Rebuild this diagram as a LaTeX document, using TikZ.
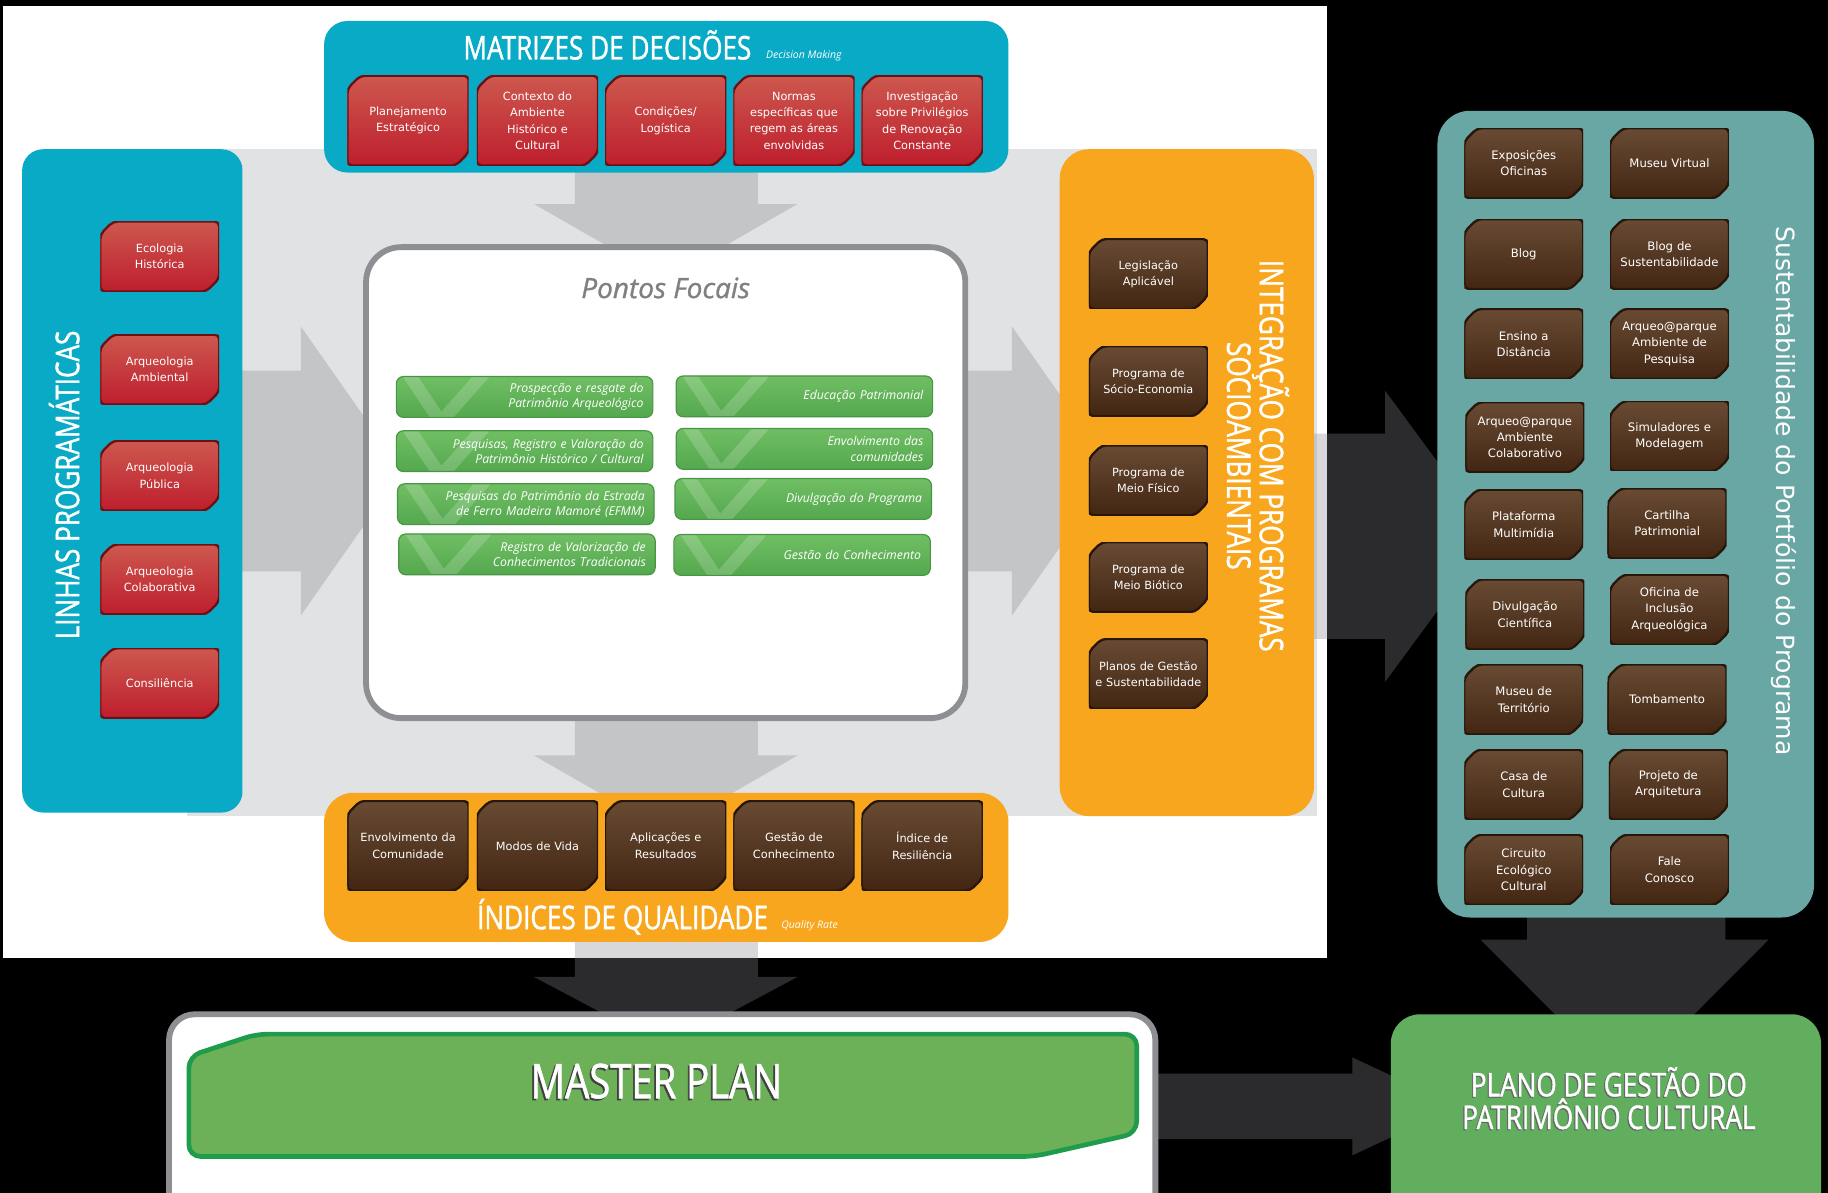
\documentclass[tikz,border=0pt]{standalone}
\usepackage{fontspec}
\setmainfont{DejaVu Sans}
\newfontfamily\condfont[FakeStretch=0.8,FakeBold=1.2]{Open Sans}
\newfontfamily\itfont{Open Sans}
\newfontfamily\focalfont[FakeBold=1]{Open Sans}

\definecolor{teal}{RGB}{9,170,198}
\definecolor{tealR}{RGB}{104,167,163}
\definecolor{orange}{RGB}{247,166,29}
\definecolor{bggray}{RGB}{225,226,228}
\definecolor{arrowgray}{RGB}{135,136,140}
\definecolor{frame}{RGB}{142,143,147}
\definecolor{redtop}{RGB}{205,88,78}
\definecolor{redbot}{RGB}{190,30,45}
\definecolor{redline}{RGB}{110,15,20}
\definecolor{browntop}{RGB}{105,75,52}
\definecolor{brownbot}{RGB}{66,38,18}
\definecolor{brownline}{RGB}{40,22,10}
\definecolor{bartop}{RGB}{112,190,100}
\definecolor{barbot}{RGB}{84,168,78}
\definecolor{barline}{RGB}{72,150,68}
\definecolor{mpgreen}{RGB}{108,176,88}
\definecolor{mpline}{RGB}{30,155,75}
\definecolor{pgreen}{RGB}{96,174,94}
\definecolor{focal}{RGB}{128,128,131}

\tikzset{
  chambox/.style={minimum width=104pt, minimum height=77pt, text width=98pt, inner sep=0pt,
    align=center, text=white, font=\fontsize{9.7}{14}\selectfont,
    path picture={
      \shade[top color=#1top, bottom color=#1bot, draw=#1line, line width=2pt, rounded corners=4pt]
        ([yshift=-11pt]path picture bounding box.north west) --
        ([xshift=11pt]path picture bounding box.north west) --
        (path picture bounding box.north east) --
        ([yshift=11pt]path picture bounding box.south east) --
        ([xshift=-11pt]path picture bounding box.south east) --
        (path picture bounding box.south west) -- cycle;}},
  sidebox/.style={chambox=#1, minimum width=102pt, minimum height=60pt},
  portbox/.style={sidebox=brown, font=\fontsize{10}{14}\selectfont},
  focalbar/.style={rectangle, rounded corners=6pt, draw=barline, line width=1pt,
    top color=bartop, bottom color=barbot, minimum width=220pt, minimum height=35pt,
    text width=204pt, inner sep=0pt, align=right, text=white,
    font=\itfont\itshape\fontsize{10.5}{13}\selectfont,
    path picture={\draw[white, opacity=.18, line width=11pt, line join=round]
      ([xshift=8pt,yshift=6pt]path picture bounding box.north west) --
      ([xshift=38pt,yshift=-4pt]path picture bounding box.south west) --
      ([xshift=78pt,yshift=6pt]path picture bounding box.north west);}},
  blockarrow/.style={fill=arrowgray, fill opacity=.32},
  title/.style={text=white, font=\condfont\fontsize{28}{28}\selectfont, inner sep=0pt},
  subtitle/.style={text=white, font=\itfont\itshape\fontsize{9}{10}\selectfont, inner sep=0pt}
}

\begin{document}
\begin{tikzpicture}[x=1pt,y=1pt]
\useasboundingbox (0,0) rectangle (1568,-1023);
\fill[black] (0,0) rectangle (1568,-1023);
\fill[white] (3,-5) rectangle (1138,-822);
\fill[bggray] (160,-128) rectangle (1130,-700);

% big arrows
\fill[blockarrow] (493,-140) -- (650,-140) -- (650,-175) -- (684,-175) -- (571.5,-240) -- (458,-175) -- (493,-175) -- cycle;
\fill[blockarrow] (493,-600) -- (650,-600) -- (650,-648) -- (684,-648) -- (571.5,-713) -- (458,-648) -- (493,-648) -- cycle;
\fill[blockarrow] (200,-318) -- (258,-318) -- (258,-280) -- (345,-404) -- (258,-528) -- (258,-490) -- (200,-490) -- cycle;
\fill[blockarrow] (820,-318) -- (868,-318) -- (868,-280) -- (955,-404) -- (868,-528) -- (868,-490) -- (820,-490) -- cycle;
\fill[blockarrow] (1110,-372) -- (1188,-372) -- (1188,-335) -- (1280,-460) -- (1188,-585) -- (1188,-548) -- (1110,-548) -- cycle;
\fill[blockarrow] (493,-800) -- (650,-800) -- (650,-838) -- (684,-838) -- (571.5,-898) -- (458,-838) -- (493,-838) -- cycle;
\fill[blockarrow] (1310,-780) -- (1480,-780) -- (1480,-806) -- (1517,-806) -- (1393.5,-930) -- (1270,-806) -- (1310,-806) -- cycle;
\fill[blockarrow] (985,-921) -- (1160,-921) -- (1160,-907) -- (1250,-949) -- (1160,-991) -- (1160,-977) -- (985,-977) -- cycle;

% panels
\fill[teal, rounded corners=20pt] (278,-18) rectangle (865,-148);
\fill[teal, rounded corners=18pt] (19,-128) rectangle (208,-697);
\fill[orange, rounded corners=25pt] (909,-128) rectangle (1127,-700);
\fill[orange, rounded corners=25pt] (278,-680) rectangle (865,-808);
\fill[tealR, rounded corners=28pt] (1233,-95) rectangle (1556,-787);
\filldraw[fill=white, draw=frame, line width=5pt, rounded corners=30pt] (314,-212) rectangle (828,-616);
\filldraw[fill=white, draw=frame, line width=5pt, rounded corners=22pt] (145,-870) rectangle (991,-1080);
\filldraw[fill=mpgreen, draw=mpline, line width=4pt, rounded corners=10pt]
	(162,-906) -- (220,-887) -- (975,-887) -- (975,-972) -- (887,-992) -- (162,-992) -- cycle;
\fill[pgreen, rounded corners=25pt] (1193,-870) rectangle (1562,-1080);

% titles
\node[title, anchor=base] (mdtitle) at (521,-51) {MATRIZES DE DECISÕES};
\node[subtitle, anchor=base west] (mdsub) at (657,-50) {Decision Making};
\node[title, rotate=90] (lptitle) at (55,-416) {LINHAS PROGRAMÁTICAS};
\node[title, rotate=-90, align=center] (iptitle) at (1079,-391) {INTEGRAÇÃO COM PROGRAMAS\\SOCIOAMBIENTAIS};
\node[title, anchor=base] (iqtitle) at (534,-797) {ÍNDICES DE QUALIDADE};
\node[subtitle, anchor=base west] (iqsub) at (670,-796) {Quality Rate};
\node[text=white, font=\fontsize{21.5}{24}\selectfont, rotate=-90] (sptitle) at (1530,-421) {Sustentabilidade do Portfólio do Programa};
\node[text=focal, font=\focalfont\itshape\fontsize{24}{26}\selectfont] (pftitle) at (571,-247) {Pontos Focais};

% decision matrix
\node[chambox=red] (md1) at (350,-103.5) {Planejamento\\Estratégico};
\node[chambox=red] (md2) at (461,-103.5) {Contexto do\\Ambiente\\Histórico e\\Cultural};
\node[chambox=red] (md3) at (571,-103.5) {Condições/\\Logística};
\node[chambox=red] (md4) at (681,-103.5) {Normas\\específicas que\\regem as áreas\\envolvidas};
\node[chambox=red] (md5) at (791,-103.5) {Investigação\\sobre Privilégios\\de Renovação\\Constante};

% program lines
\node[sidebox=red] (lp1) at (137,-220) {Ecologia\\Histórica};
\node[sidebox=red] (lp2) at (137,-317) {Arqueologia\\Ambiental};
\node[sidebox=red] (lp3) at (137,-408) {Arqueologia\\Pública};
\node[sidebox=red] (lp4) at (137,-497) {Arqueologia\\Colaborativa};
\node[sidebox=red] (lp5) at (137,-586) {Consiliência};

% socio-environmental programs
\node[sidebox=brown] (ip1) at (985,-235) {Legislação\\Aplicável};
\node[sidebox=brown] (ip2) at (985,-327) {Programa de\\Sócio-Economia};
\node[sidebox=brown] (ip3) at (985,-412) {Programa de\\Meio Físico};
\node[sidebox=brown] (ip4) at (985,-495) {Programa de\\Meio Biótico};
\node[sidebox=brown] (ip5) at (985,-578) {Planos de Gestão\\e Sustentabilidade};

% quality rates
\node[chambox=brown] (iq1) at (350,-725.5) {Envolvimento da\\Comunidade};
\node[chambox=brown] (iq2) at (461,-725.5) {Modos de Vida};
\node[chambox=brown] (iq3) at (571,-725.5) {Aplicações e\\Resultados};
\node[chambox=brown] (iq4) at (681,-725.5) {Gestão de\\Conhecimento};
\node[chambox=brown] (iq5) at (791,-725.5) {Índice de\\Resiliência};

% focal points
\node[focalbar] (pf1) at (450,-340.5) {Prospecção e resgate do\\Patrimônio Arqueológico};
\node[focalbar] (pf2) at (450,-387) {Pesquisas, Registro e Valoração do\\Patrimônio Histórico / Cultural};
\node[focalbar] (pf3) at (451,-432.5) {Pesquisas do Patrimônio da Estrada\\de Ferro Madeira Mamoré (EFMM)};
\node[focalbar] (pf4) at (452,-475.5) {Registro de Valorização de\\Conhecimentos Tradicionais};
\node[focalbar] (pf5) at (690,-340) {Educação Patrimonial};
\node[focalbar] (pf6) at (690,-385) {Envolvimento das\\comunidades};
\node[focalbar] (pf7) at (689,-428) {Divulgação do Programa};
\node[focalbar] (pf8) at (688,-476) {Gestão do Conhecimento};

% portfolio
\node[portbox] (sp1) at (1307,-140) {Exposições\\Oficinas};
\node[portbox] (sp2) at (1432,-140) {Museu Virtual};
\node[portbox] (sp3) at (1307,-218) {Blog};
\node[portbox] (sp4) at (1432,-218) {Blog de\\Sustentabilidade};
\node[portbox] (sp5) at (1307,-295) {Ensino a\\Distância};
\node[portbox] (sp6) at (1432,-295) {Arqueo@parque\\Ambiente de\\Pesquisa};
\node[portbox] (sp7) at (1308,-375) {Arqueo@parque\\Ambiente\\Colaborativo};
\node[portbox] (sp8) at (1432,-374) {Simuladores e\\Modelagem};
\node[portbox] (sp9) at (1307,-450) {Plataforma\\Multimídia};
\node[portbox] (sp10) at (1430,-449) {Cartilha\\Patrimonial};
\node[portbox] (sp11) at (1308,-527) {Divulgação\\Científica};
\node[portbox] (sp12) at (1432,-523) {Oficina de\\Inclusão\\Arqueológica};
\node[portbox] (sp13) at (1307,-600) {Museu de\\Território};
\node[portbox] (sp14) at (1430,-600) {Tombamento};
\node[portbox] (sp15) at (1307,-673) {Casa de\\Cultura};
\node[portbox] (sp16) at (1431,-673) {Projeto de\\Arquitetura};
\node[portbox] (sp17) at (1307,-746) {Circuito\\Ecológico\\Cultural};
\node[portbox] (sp18) at (1432,-746) {Fale\\Conosco};

% master plan and management plan
\node[title, text=black!75, font=\condfont\fontsize{41}{41}\selectfont, anchor=base] (mpshadow) at (561.5,-943.5) {MASTER PLAN};
\node[title, font=\condfont\fontsize{41}{41}\selectfont, anchor=base] (mp) at (563,-942) {MASTER PLAN};
\node[title, text=black!60, align=center] (pgshadow) at (1379,-943) {PLANO DE GESTÃO DO\\PATRIMÔNIO CULTURAL};
\node[title, align=center] (pg) at (1380,-942) {PLANO DE GESTÃO DO\\PATRIMÔNIO CULTURAL};
\end{tikzpicture}
\end{document}
